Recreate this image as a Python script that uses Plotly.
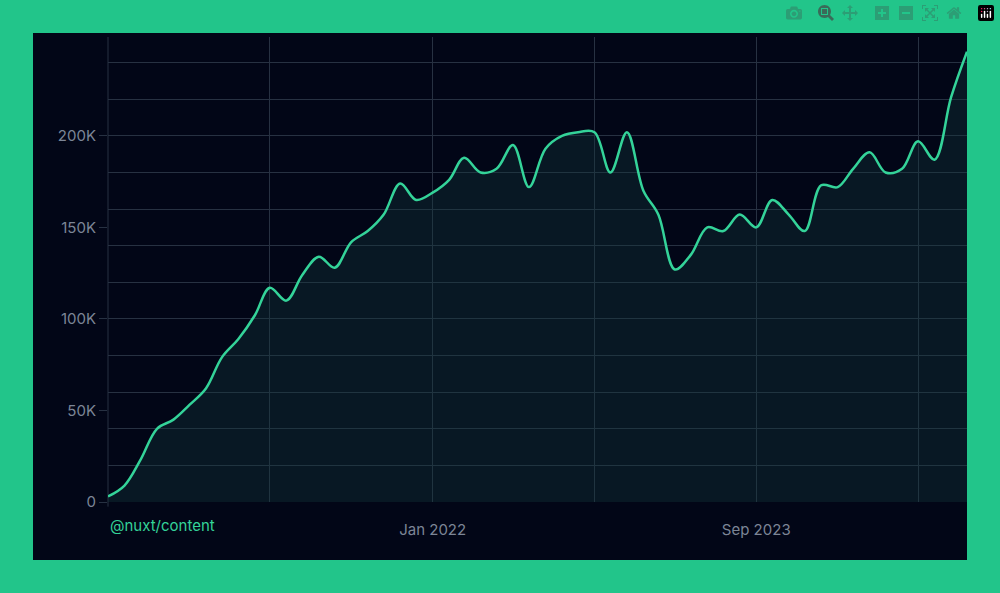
import plotly.graph_objects as go
import pandas as pd

months = pd.date_range("2020-05-01", "2024-10-01", freq="MS").strftime("%Y-%m-%d").tolist()
downloads = [3, 9, 23, 40, 45, 53, 62, 79, 89, 102, 117, 110, 124, 134, 128, 142, 148, 157, 174, 165,
             169, 176, 188, 180, 182, 195, 172, 193, 200, 202, 202, 180, 202, 170, 157, 127, 135, 150,
             148, 157, 150, 165, 157, 148, 173, 172, 182, 191, 180, 182, 197, 187, 221, 246]
downloads = [v * 1000 for v in downloads]
grid_dates = ["2020-05-01", "2021-03-01", "2022-01-01", "2022-11-01", "2023-09-01", "2024-07-01"]
grid_text = ["", "", "Jan 2022", "", "Sep 2023", ""]
y_ticks = [0, 50000, 100000, 150000, 200000]
y_text = ["0", "50K", "100K", "150K", "200K"]
y_grid = list(range(0, 260000, 20000))

fig = go.Figure(go.Scatter(x=months, y=downloads, mode="lines", line=dict(color="#34d399", width=2.5, shape="spline", smoothing=1),
                           fill="tozeroy", fillcolor="rgba(20,60,60,0.35)", hoverinfo="skip"))
fig.add_shape(type="rect", xref="paper", yref="paper", x0=-0.0873, x1=1.0, y0=-0.1247, y1=1.0086,
              fillcolor="#020617", line=dict(width=0), layer="below")
fig.add_shape(type="line", xref="paper", yref="paper", x0=0, x1=0, y0=-0.01, y1=1.0,
              line=dict(color="#273142", width=1), layer="below")
fig.update_layout(
    width=1000, height=593, margin=dict(l=108, r=33, t=37, b=91),
    paper_bgcolor="#22c58a", plot_bgcolor="rgba(0,0,0,0)", showlegend=False,
    font=dict(family="Inter, sans-serif", color="#7c8596", size=15),
    xaxis=dict(tickvals=grid_dates, ticktext=grid_text, showgrid=True, gridcolor="#273142", gridwidth=1,
               range=["2020-05-01", "2024-10-01"], zeroline=False, showline=False,
               ticks="outside", ticklen=14, tickcolor="rgba(0,0,0,0)"),
    yaxis=dict(range=[0, 254000], tickvals=y_ticks, ticktext=y_text, showgrid=False, zeroline=False,
               ticks="outside", ticklen=8, tickcolor="#273142",
               minor=dict(tickvals=y_grid, showgrid=True, gridcolor="#273142", gridwidth=1)),
    annotations=[dict(text="@nuxt/content", x=0, y=-0.025, xref="paper", yref="paper", xanchor="left", yanchor="top",
                      showarrow=False, font=dict(color="#34d399", size=15))],
)
fig.write_html("out.html")
with open("out.html", encoding="utf-8") as f:
    html = f.read()
html = html.replace("<head>", "<head><style>html,body{margin:0;padding:0;background:#22c58a}</style>", 1)
with open("out.html", "w", encoding="utf-8") as f:
    f.write(html)
